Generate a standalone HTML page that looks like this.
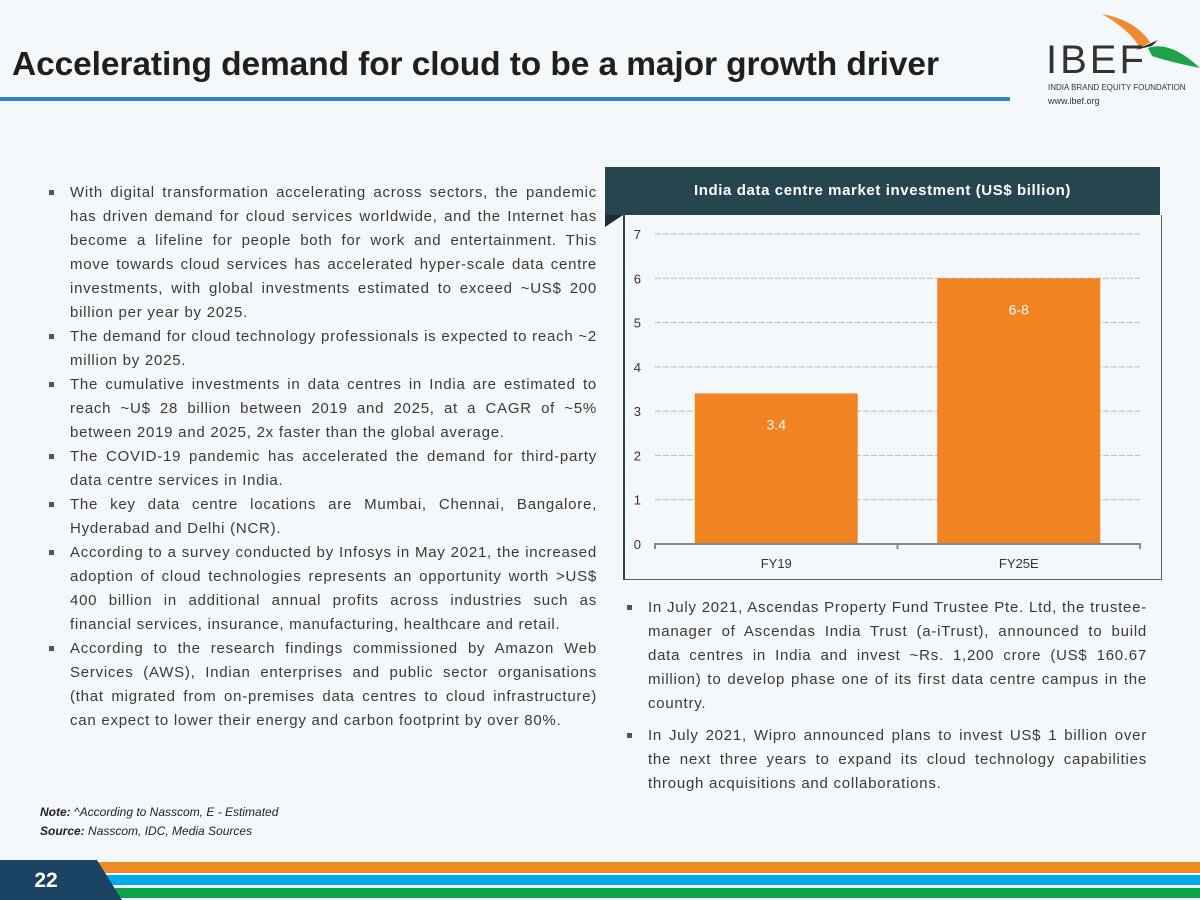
<!DOCTYPE html>
<html><head><meta charset="utf-8"><style>
body{margin:0;width:1200px;height:900px;background:#f5f8fa;font-family:"Liberation Sans",sans-serif;position:relative;overflow:hidden}
.abs{position:absolute}
h1{position:absolute;left:12px;top:46px;margin:0;font-size:33.5px;font-weight:bold;color:#1f1f1f;letter-spacing:-0.1px;white-space:nowrap}
ul{margin:0;padding:0;list-style:none}
li{position:relative;text-align:justify;font-size:15px;line-height:24px;color:#3a3a3a;letter-spacing:0.75px}
li:before{content:"";position:absolute;left:-21px;top:9px;width:5px;height:5px;background:#555}
</style></head><body>
<h1>Accelerating demand for cloud to be a major growth driver</h1>
<div class="abs" style="left:0;top:97px;width:1010px;height:4px;background:#2e86c8"></div>
<div class="abs" style="left:1040px;top:10px;width:160px;height:110px">
<svg width="160" height="70" style="position:absolute;left:0;top:0"><path d="M62 4 Q95 10 110 32 L100 38 Q90 20 62 4Z" fill="#f08a30"/><path d="M108 38 Q130 30 160 58 Q130 52 112 46Z" fill="#1fa34a"/><path d="M95 40 L118 30 L112 36Z" fill="#333"/></svg>
<div class="abs" style="left:6px;top:30px;font-size:40px;line-height:40px;color:#333;letter-spacing:3px">IBEF</div>
<div class="abs" style="left:8px;top:73px;font-size:8px;color:#333;white-space:nowrap">INDIA BRAND EQUITY FOUNDATION</div>
<div class="abs" style="left:8px;top:86px;font-size:9px;color:#333">www.ibef.org</div>
</div>
<ul class="abs" style="left:70px;top:181px;width:527px">
<li>With digital transformation accelerating across sectors, the pandemic has driven demand for cloud services worldwide, and the Internet has become a lifeline for people both for work and entertainment. This move towards cloud services has accelerated hyper-scale data centre investments, with global investments estimated to exceed ~US$ 200 billion per year by 2025.</li>
<li>The demand for cloud technology professionals is expected to reach ~2 million by 2025.</li>
<li>The cumulative investments in data centres in India are estimated to reach ~U$ 28 billion between 2019 and 2025, at a CAGR of ~5% between 2019 and 2025, 2x faster than the global average.</li>
<li>The COVID-19 pandemic has accelerated the demand for third-party data centre services in India.</li>
<li>The key data centre locations are Mumbai, Chennai, Bangalore, Hyderabad and Delhi (NCR).</li>
<li>According to a survey conducted by Infosys in May 2021, the increased adoption of cloud technologies represents an opportunity worth &gt;US$ 400 billion in additional annual profits across industries such as financial services, insurance, manufacturing, healthcare and retail.</li>
<li>According to the research findings commissioned by Amazon Web Services (AWS), Indian enterprises and public sector organisations (that migrated from on-premises data centres to cloud infrastructure) can expect to lower their energy and carbon footprint by over 80%.</li>
</ul>
<div class="abs" style="left:605px;top:167px;width:555px;height:48px;background:#26464f;color:#fff;font-size:15px;font-weight:bold;line-height:48px;text-align:center;letter-spacing:0.6px">India data centre market investment (US$ billion)</div>
<div class="abs" style="left:605px;top:215px;width:0;height:0;border-top:12px solid #1a2e33;border-right:18px solid transparent"></div>
<div class="abs" style="left:623px;top:215px;width:536px;height:364px;border:1px solid #4a6068;border-top:none;border-left:2px solid #26464f"></div>
<svg id="chart" class="abs" style="left:0;top:0" width="1200" height="900"></svg>
<ul class="abs" style="left:648px;top:596px;width:499px">
<li style="margin-bottom:8px">In July 2021, Ascendas Property Fund Trustee Pte. Ltd, the trustee-manager of Ascendas India Trust (a-iTrust), announced to build data centres in India and invest ~Rs. 1,200 crore (US$ 160.67 million) to develop phase one of its first data centre campus in the country.</li>
<li>In July 2021, Wipro announced plans to invest US$ 1 billion over the next three years to expand its cloud technology capabilities through acquisitions and collaborations.</li>
</ul>
<div class="abs" style="left:40px;top:803px;font-size:12px;font-style:italic;line-height:19px;color:#222"><b>Note:</b> ^According to Nasscom, E - Estimated<br><b>Source:</b> Nasscom, IDC, Media Sources</div>
<svg class="abs" style="left:0;top:855px" width="1200" height="45">
<rect x="95" y="7" width="1105" height="11" fill="#f08a22"/>
<rect x="105" y="20" width="1095" height="10" fill="#00aeef"/>
<rect x="115" y="33" width="1085" height="10" fill="#0aa64a"/>
<polygon points="0,5 97,5 122,45 0,45" fill="#1b4363"/>
<text x="46" y="32" font-size="21" font-weight="bold" fill="#fff" text-anchor="middle" font-family="Liberation Sans">22</text>
</svg>
<script>
const categories=["FY19","FY25E"];
const values=[3.4,6];
const valueLabels=["3.4","6-8"];
const yTicks=[0,1,2,3,4,5,6,7];
const svg=document.getElementById('chart');
const NS='http://www.w3.org/2000/svg';
const x0=655,x1=1140,yb=544,yt=234,ymax=7;
const y=v=>yb-(v/ymax)*(yb-yt);
const bandW=(x1-x0)/categories.length;
function mk(t,a,txt){const e=document.createElementNS(NS,t);for(const k in a)e.setAttribute(k,a[k]);if(txt!==undefined)e.textContent=txt;svg.appendChild(e);return e;}
yTicks.forEach(t=>{
 if(t>0){const g=mk('line',{x1:x0,x2:x1,y1:y(t),y2:y(t),stroke:'#bbb','stroke-dasharray':'6,2'});
 
 }
 const l=mk('text',{x:641,y:y(t)+5,'font-size':13,fill:'#333','text-anchor':'end','font-family':'Liberation Sans'},t);
 
 
});
categories.forEach((c,i)=>{
 const cx=x0+bandW*(i+0.5),w=163;
 const b=mk('rect',{x:cx-w/2,y:y(values[i]),width:w,height:yb-y(values[i]),fill:'#f18421'});
 
 
 const v=mk('text',{x:cx,y:y(values[i])+36,'font-size':14,fill:'#fff','text-anchor':'middle','font-family':'Liberation Sans'},valueLabels[i]);
 
 
 const l=mk('text',{x:cx,y:568,'font-size':13,fill:'#333','text-anchor':'middle','font-family':'Liberation Sans'},c);
 
 
});
const ax=mk('path',{d:`M${x0} ${yb+5}V${yb}H${x1}V${yb+5}M${(x0+x1)/2} ${yb}V${yb+5}`,stroke:'#888','stroke-width':2,fill:'none'});


</script>
</body></html>
